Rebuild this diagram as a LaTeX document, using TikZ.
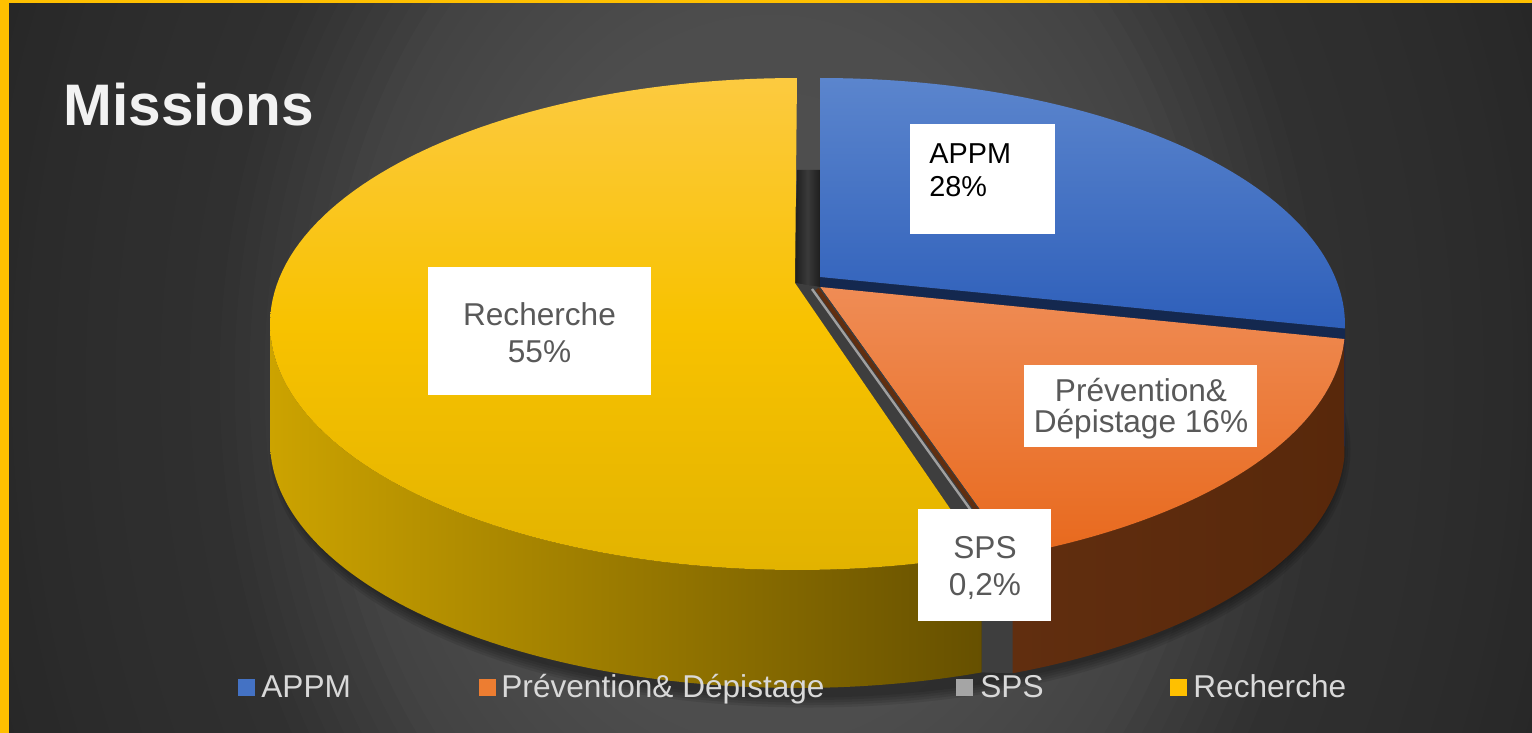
\documentclass[tikz,border=0pt]{standalone}
\usepackage{fontspec}
\setmainfont{Liberation Sans}
\definecolor{frameY}{HTML}{FFC000}
\definecolor{bgD}{HTML}{262626}
\definecolor{bandD}{HTML}{1E1E1E}
\definecolor{bandL}{HTML}{3A3A3A}
\definecolor{blueT}{HTML}{5B85CD}
\definecolor{blueB}{HTML}{2E5FBA}
\definecolor{blueCut}{HTML}{14284F}
\definecolor{orT}{HTML}{EF8C55}
\definecolor{orB}{HTML}{E8691D}
\definecolor{brownL}{HTML}{612E0F}
\definecolor{brownR}{HTML}{58280B}
\definecolor{spsGray}{HTML}{A0A0A0}
\definecolor{gapGray}{HTML}{3E3E3E}
\definecolor{yT}{HTML}{FCCA40}
\definecolor{yM}{HTML}{F8C200}
\definecolor{yB}{HTML}{E2B300}
\definecolor{ySL}{HTML}{CCA300}
\definecolor{ySR}{HTML}{665000}
\definecolor{lblText}{HTML}{595959}
\definecolor{legText}{HTML}{D9D9D9}
\definecolor{titleText}{HTML}{F2F2F2}
\definecolor{legBlue}{HTML}{4472C4}
\definecolor{legOrange}{HTML}{ED7D31}
\definecolor{legGray}{HTML}{A5A5A5}
\definecolor{legYellow}{HTML}{FFC000}
\begin{document}
\begin{tikzpicture}[x=0.5pt,y=-0.5pt,
  labelbox/.style={fill=white, draw=none, inner sep=0pt, outer sep=0pt},
  lbl/.style={font=\fontsize{15.8}{19}\selectfont, text=lblText, inner sep=0pt, anchor=base},
  lblA/.style={font=\fontsize{14.4}{17}\selectfont, text=black, inner sep=0pt, anchor=base west},
  legsq/.style={minimum size=8.5pt, inner sep=0pt, draw=none},
  legtx/.style={font=\fontsize{15.8}{19}\selectfont, text=legText, inner sep=0pt, anchor=base west},
  pieshadow/.style={fill=black, opacity=0.09}
]
\useasboundingbox (0,0) rectangle (1532,733);
% background: elliptical gradient built from layers
\fill[bgD] (0,0) rectangle (1532,733);
\begin{scope}
  \clip (0,0) rectangle (1532,733);
  \foreach \i in {0,...,59}{
    \pgfmathsetmacro{\dd}{1.05-\i*0.0175}
    \pgfmathtruncatemacro{\gg}{max(38,(\dd<0.34) ? (82-5*\dd/0.34) : ((\dd<0.5) ? (77-9*(\dd-0.34)/0.16) : ((\dd<0.66) ? (68-19*(\dd-0.5)/0.16) : ((\dd<0.88) ? (49-6*(\dd-0.66)/0.22) : (43-5*(\dd-0.88)/0.12)))))}
    \definecolor{bgstep}{RGB}{\gg,\gg,\gg}
    \fill[bgstep] (770,380) ellipse[x radius={850*\dd}, y radius={1100*\dd}];
  }
\end{scope}
\fill[frameY] (0,0) rectangle (9,733);
\fill[frameY] (0,0) rectangle (1532,3);

% key points
\coordinate (Vb) at (820,277);
\coordinate (Be) at (1345,328.4);
\coordinate (BeB) at (1345,446.4);
\coordinate (VbB) at (820,395);
\coordinate (Vo) at (820,287);
\coordinate (Po) at (1012.7,555.2);
\coordinate (PoB) at (1012.7,673.2);
\coordinate (Vy) at (795,283);
\coordinate (Py) at (981.6,554.4);
\coordinate (PyB) at (981.6,672.4);
\coordinate (br1) at (817,289);
\coordinate (br2) at (1009,555);
\coordinate (gl1) at (812,289);
\coordinate (gl2) at (1003,555);

% soft shadow
\foreach \k in {1,...,5}
  \fill[pieshadow] (810,449) ellipse[x radius={528+2.5*\k}, y radius={246+2.5*\k}];

% dark band between yellow and blue
\shade[left color=bandD, right color=bandD, middle color=bandL] (797,170) -- (820,170) -- (Vo) -- (Vy) -- cycle;

% APPM (blue)
\fill[blueCut] (Vb) -- (Be) -- (BeB) -- (VbB) -- cycle;
\shade[top color=blueT, bottom color=blueB] (Vb) -- plot[domain=0:90.8, samples=90] ({820+525*sin(\x)},{325-247*cos(\x)}) -- cycle;

% Prevention (orange)
\shade[left color=brownL, right color=brownR] plot[domain=92.8:158.1, samples=80] ({815+530*sin(\x)},{327-246*cos(\x)}) -- plot[domain=158.1:92.8, samples=80] ({815+530*sin(\x)},{445-246*cos(\x)}) -- cycle;
\shade[top color=orT, bottom color=orB] (Vo) -- plot[domain=92.8:158.1, samples=80] ({815+530*sin(\x)},{327-246*cos(\x)}) -- cycle;

% SPS gap
\fill[gapGray] (Vy) -- (Vo) -- (Po) -- (PoB) -- (PyB) -- (Py) -- cycle;
\draw[brownL, line width=2pt] (br1) -- (br2);
\draw[spsGray, line width=1.2pt] (gl1) -- (gl2);

% Recherche (yellow)
\shade[left color=ySL, right color=ySR] plot[domain=159.5:270, samples=90] ({797+527*sin(\x)},{324-246*cos(\x)}) -- plot[domain=270:159.5, samples=90] ({797+527*sin(\x)},{442-246*cos(\x)}) -- cycle;
\shade[top color=yT, bottom color=yB, middle color=yM] (Vy) -- plot[domain=159.5:360, samples=120] ({797+527*sin(\x)},{324-246*cos(\x)}) -- cycle;

% data labels
\node[labelbox, minimum width=72.5pt, minimum height=55pt] (boxA) at (982.5,179) {};
\node[lblA] (tA1) at (929,163) {APPM};
\node[lblA] (tA2) at (929,197) {28\%};
\node[labelbox, minimum width=111.5pt, minimum height=64pt] (boxR) at (539.5,331) {};
\node[lbl] (tR1) at (539.5,325) {Recherche};
\node[lbl] (tR2) at (539.5,362) {55\%};
\node[labelbox, minimum width=116.5pt, minimum height=41pt] (boxP) at (1140.5,406) {};
\node[lbl] (tP1) at (1141,401) {Prévention\&};
\node[lbl] (tP2) at (1141,432) {Dépistage 16\%};
\node[labelbox, minimum width=66.5pt, minimum height=56pt] (boxS) at (984.5,565) {};
\node[lbl] (tS1) at (985,558) {SPS};
\node[lbl] (tS2) at (985,595) {0,2\%};

% legend
\node[legsq, fill=legBlue] (sq1) at (246.5,687.5) {};
\node[legtx] (lg1) at (261,697) {APPM};
\node[legsq, fill=legOrange] (sq2) at (487.5,687.5) {};
\node[legtx] (lg2) at (501,697) {Prévention\& Dépistage};
\node[legsq, fill=legGray] (sq3) at (964.5,687.5) {};
\node[legtx] (lg3) at (980,697) {SPS};
\node[legsq, fill=legYellow] (sq4) at (1178.5,687.5) {};
\node[legtx] (lg4) at (1193,697) {Recherche};

% title
\node[font=\bfseries\fontsize{29.3}{35}\selectfont, text=titleText, inner sep=0pt, anchor=base west] (title) at (63,126) {Missions};
\end{tikzpicture}
\end{document}
